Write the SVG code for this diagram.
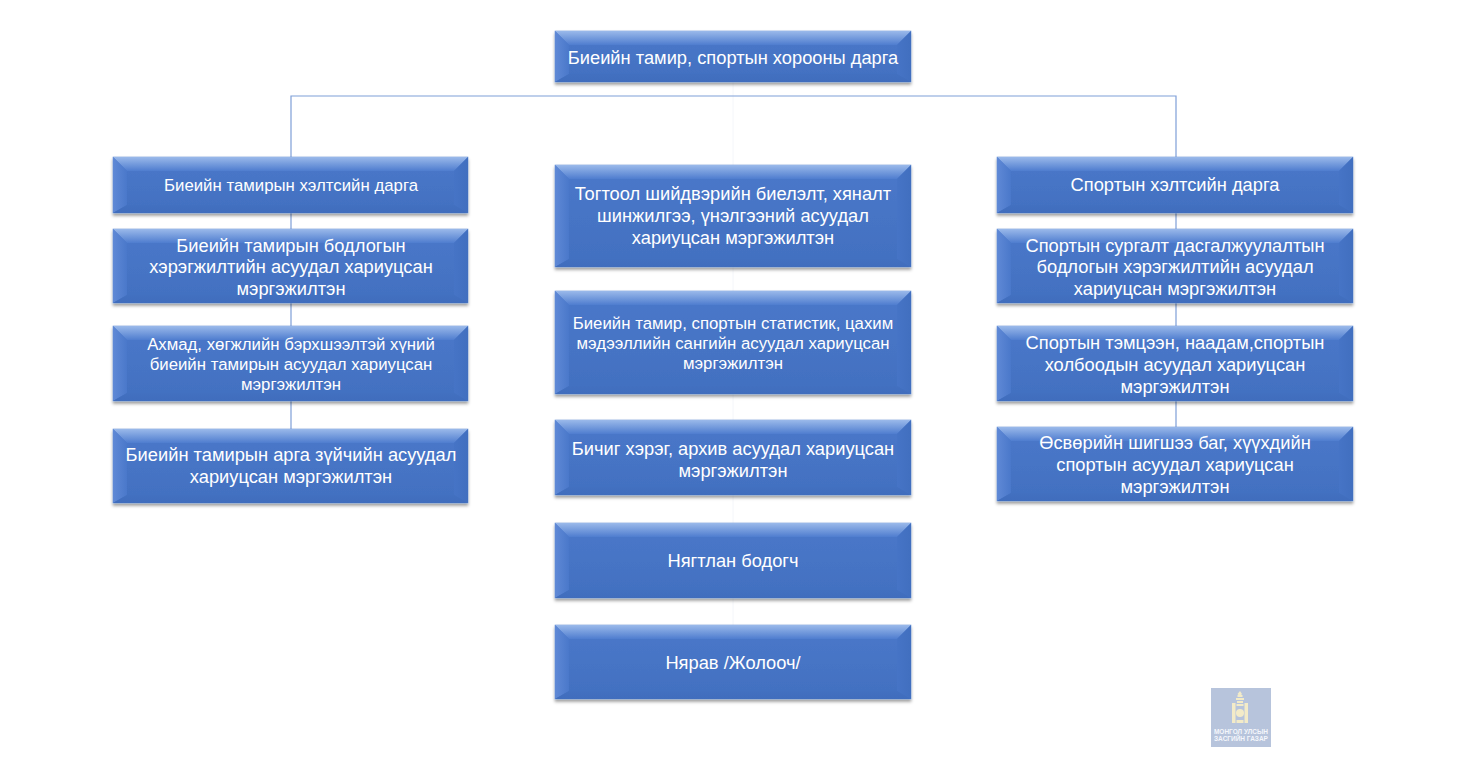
<svg xmlns="http://www.w3.org/2000/svg" width="1457" height="770" viewBox="0 0 1457 770">
<style>
text{font-family:"Liberation Sans",Arial,sans-serif;fill:#fff;text-anchor:middle;font-size:18.3px}
.sm{font-size:16.8px}
.face{fill:url(#face);filter:url(#shadow);stroke:#6f96d8;stroke-width:.6}
.t{fill:url(#top)}.l{fill:url(#left)}.r{fill:url(#right)}.b{fill:url(#bottom)}
.link{fill:none;stroke:#7f9fd8;stroke-width:1.2}
.faint{fill:none;stroke:#f4f6fa;stroke-width:1}
.logotext{font-size:6.5px;font-weight:bold;fill:#f4f6fb}
.gold{fill:#f3ebc8}
</style>
<defs>
<linearGradient id="face" x1="0" y1="0" x2="0" y2="1"><stop offset="0" stop-color="#4a78ca"/><stop offset="1" stop-color="#4270c0"/></linearGradient>
<linearGradient id="top" x1="0" y1="0" x2="0" y2="1"><stop offset="0" stop-color="#9ab9ea"/><stop offset="1" stop-color="#4f7dcf"/></linearGradient>
<linearGradient id="left" x1="0" y1="0" x2="1" y2="0"><stop offset="0" stop-color="#5f89d6"/><stop offset="1" stop-color="#4a78ca"/></linearGradient>
<linearGradient id="right" x1="0" y1="0" x2="1" y2="0"><stop offset="0" stop-color="#4674c6"/><stop offset="1" stop-color="#416fbf"/></linearGradient>
<linearGradient id="bottom" x1="0" y1="0" x2="0" y2="1"><stop offset="0" stop-color="#4270c0"/><stop offset="1" stop-color="#406dbd"/></linearGradient>
<filter id="shadow" x="-3%" y="-10%" width="106%" height="125%"><feDropShadow dx="0" dy="2.500" stdDeviation="1.800" flood-color="#000" flood-opacity=".38"/></filter>
</defs>
<rect width="1457" height="770" fill="#fff"/>
<g id="connectors">
<path class="faint" d="M733 82V625"/>
<path class="link" d="M291 157V96H1176V157"/>
<path class="link" d="M291 213V429M1176 213V427"/>
</g>
<g id="n-head"><rect class="face" x="555" y="31" width="356" height="51"/><polygon class="t" points="555,31 911,31 897,45 569,45"/><polygon class="l" points="555,31 569,45 569,74 555,82"/><polygon class="r" points="911,31 897,45 897,74 911,82"/><polygon class="b" points="555,82 569,74 897,74 911,82"/><text x="733" y="64">Биеийн тамир, спортын хорооны дарга</text></g>
<g id="n-l1"><rect class="face" x="113" y="157" width="355" height="56"/><polygon class="t" points="113,157 468,157 454,171 127,171"/><polygon class="l" points="113,157 127,171 127,205 113,213"/><polygon class="r" points="468,157 454,171 454,205 468,213"/><polygon class="b" points="113,213 127,205 454,205 468,213"/><text class="sm" x="291" y="191">Биеийн тамирын хэлтсийн дарга</text></g>
<g id="n-l2"><rect class="face" x="113" y="229" width="355" height="74"/><polygon class="t" points="113,229 468,229 454,243 127,243"/><polygon class="l" points="113,229 127,243 127,295 113,303"/><polygon class="r" points="468,229 454,243 454,295 468,303"/><polygon class="b" points="113,303 127,295 454,295 468,303"/><text x="291" y="252">Биеийн тамирын бодлогын</text><text x="291" y="273">хэрэгжилтийн асуудал хариуцсан</text><text x="291" y="295">мэргэжилтэн</text></g>
<g id="n-l3"><rect class="face" x="113" y="326" width="355" height="75"/><polygon class="t" points="113,326 468,326 454,340 127,340"/><polygon class="l" points="113,326 127,340 127,393 113,401"/><polygon class="r" points="468,326 454,340 454,393 468,401"/><polygon class="b" points="113,401 127,393 454,393 468,401"/><text class="sm" x="291" y="350">Ахмад, хөгжлийн бэрхшээлтэй хүний</text><text class="sm" x="291" y="370">биеийн тамирын асуудал хариуцсан</text><text class="sm" x="291" y="390">мэргэжилтэн</text></g>
<g id="n-l4"><rect class="face" x="113" y="429" width="355" height="74"/><polygon class="t" points="113,429 468,429 454,443 127,443"/><polygon class="l" points="113,429 127,443 127,495 113,503"/><polygon class="r" points="468,429 454,443 454,495 468,503"/><polygon class="b" points="113,503 127,495 454,495 468,503"/><text x="291" y="461">Биеийн тамирын арга зүйчийн асуудал</text><text x="291" y="483">хариуцсан мэргэжилтэн</text></g>
<g id="n-c1"><rect class="face" x="555" y="165" width="356" height="102"/><polygon class="t" points="555,165 911,165 897,179 569,179"/><polygon class="l" points="555,165 569,179 569,259 555,267"/><polygon class="r" points="911,165 897,179 897,259 911,267"/><polygon class="b" points="555,267 569,259 897,259 911,267"/><text x="733" y="200">Тогтоол шийдвэрийн биелэлт, хяналт</text><text x="733" y="222">шинжилгээ, үнэлгээний асуудал</text><text x="733" y="244">хариуцсан мэргэжилтэн</text></g>
<g id="n-c2"><rect class="face" x="555" y="291" width="356" height="103"/><polygon class="t" points="555,291 911,291 897,305 569,305"/><polygon class="l" points="555,291 569,305 569,386 555,394"/><polygon class="r" points="911,291 897,305 897,386 911,394"/><polygon class="b" points="555,394 569,386 897,386 911,394"/><text class="sm" x="733" y="329">Биеийн тамир, спортын статистик, цахим</text><text class="sm" x="733" y="349">мэдээллийн сангийн асуудал хариуцсан</text><text class="sm" x="733" y="369">мэргэжилтэн</text></g>
<g id="n-c3"><rect class="face" x="555" y="420" width="356" height="75"/><polygon class="t" points="555,420 911,420 897,434 569,434"/><polygon class="l" points="555,420 569,434 569,487 555,495"/><polygon class="r" points="911,420 897,434 897,487 911,495"/><polygon class="b" points="555,495 569,487 897,487 911,495"/><text x="733" y="455">Бичиг хэрэг, архив асуудал хариуцсан</text><text x="733" y="477">мэргэжилтэн</text></g>
<g id="n-c4"><rect class="face" x="555" y="523" width="356" height="75"/><polygon class="t" points="555,523 911,523 897,537 569,537"/><polygon class="l" points="555,523 569,537 569,590 555,598"/><polygon class="r" points="911,523 897,537 897,590 911,598"/><polygon class="b" points="555,598 569,590 897,590 911,598"/><text x="733" y="567">Нягтлан бодогч</text></g>
<g id="n-c5"><rect class="face" x="555" y="625" width="356" height="74"/><polygon class="t" points="555,625 911,625 897,639 569,639"/><polygon class="l" points="555,625 569,639 569,691 555,699"/><polygon class="r" points="911,625 897,639 897,691 911,699"/><polygon class="b" points="555,699 569,691 897,691 911,699"/><text x="733" y="669">Нярав /Жолооч/</text></g>
<g id="n-r1"><rect class="face" x="997" y="157" width="356" height="56"/><polygon class="t" points="997,157 1353,157 1339,171 1011,171"/><polygon class="l" points="997,157 1011,171 1011,205 997,213"/><polygon class="r" points="1353,157 1339,171 1339,205 1353,213"/><polygon class="b" points="997,213 1011,205 1339,205 1353,213"/><text x="1175" y="191">Спортын хэлтсийн дарга</text></g>
<g id="n-r2"><rect class="face" x="997" y="229" width="356" height="74"/><polygon class="t" points="997,229 1353,229 1339,243 1011,243"/><polygon class="l" points="997,229 1011,243 1011,295 997,303"/><polygon class="r" points="1353,229 1339,243 1339,295 1353,303"/><polygon class="b" points="997,303 1011,295 1339,295 1353,303"/><text x="1175" y="252">Спортын сургалт дасгалжуулалтын</text><text x="1175" y="273">бодлогын хэрэгжилтийн асуудал</text><text x="1175" y="295">хариуцсан мэргэжилтэн</text></g>
<g id="n-r3"><rect class="face" x="997" y="326" width="356" height="75"/><polygon class="t" points="997,326 1353,326 1339,340 1011,340"/><polygon class="l" points="997,326 1011,340 1011,393 997,401"/><polygon class="r" points="1353,326 1339,340 1339,393 1353,401"/><polygon class="b" points="997,401 1011,393 1339,393 1353,401"/><text x="1175" y="349">Спортын тэмцээн, наадам,спортын</text><text x="1175" y="371">холбоодын асуудал хариуцсан</text><text x="1175" y="393">мэргэжилтэн</text></g>
<g id="n-r4"><rect class="face" x="997" y="427" width="356" height="74"/><polygon class="t" points="997,427 1353,427 1339,441 1011,441"/><polygon class="l" points="997,427 1011,441 1011,493 997,501"/><polygon class="r" points="1353,427 1339,441 1339,493 1353,501"/><polygon class="b" points="997,501 1011,493 1339,493 1353,501"/><text x="1175" y="449">Өсвөрийн шигшээ баг, хүүхдийн</text><text x="1175" y="471">спортын асуудал хариуцсан</text><text x="1175" y="493">мэргэжилтэн</text></g>
<g id="logo"><rect x="1211" y="688" width="60" height="59" fill="#b7c4dc"/>
<path class="gold" d="M1240 691l2 3-1 1h1.500v2h-5v-2h1l-1-1zM1236 698h8v2h-8zM1237 701h6v2h-6zM1232 703h3.500v20H1232zM1244.500 703h3.500v20h-3.500zM1236.500 704h7v2h-7zM1236.500 720h7v3h-7z"/>
<circle class="gold" cx="1240" cy="713" r="4"/>
<text class="logotext" x="1241" y="734">МОНГОЛ УЛСЫН</text><text class="logotext" x="1241" y="741">ЗАСГИЙН ГАЗАР</text></g>
</svg>
